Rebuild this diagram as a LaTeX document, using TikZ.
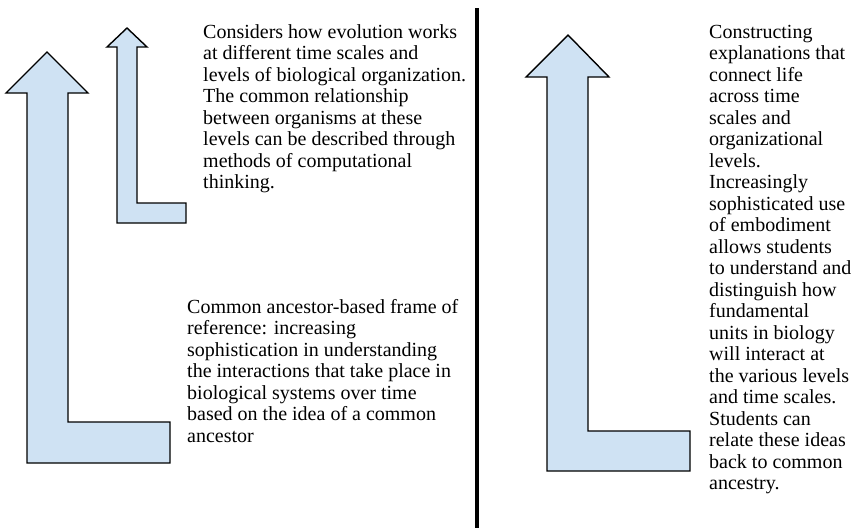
\documentclass[tikz,border=0pt]{standalone}
\usepackage{fontspec}
\setmainfont{Liberation Serif}
\begin{document}
\begin{tikzpicture}[x=1pt,y=-1pt,
  arrowshape/.style={fill=arrowblue,draw=black,line width=1.4pt,line join=miter},
  txt/.style={anchor=north west,inner sep=0pt,align=left,font=\fontsize{20}{21.5}\selectfont}]
\definecolor{arrowblue}{RGB}{207,226,243}
\useasboundingbox (0,0) rectangle (854,528);
% big left arrow
\draw[arrowshape] (47,52) -- (88,93) -- (68,93) -- (68,422) -- (170,422) -- (170,463) -- (27,463) -- (27,93) -- (6,93) -- cycle;
% small arrow
\draw[arrowshape] (127,28) -- (147,47) -- (137,47) -- (137,203) -- (186,203) -- (186,223) -- (117,223) -- (117,47) -- (107,47) -- cycle;
% right arrow
\draw[arrowshape] (568,35) -- (609,77) -- (588,77) -- (588,431) -- (690,431) -- (690,471) -- (547,471) -- (547,77) -- (526,77) -- cycle;
% divider
\coordinate (dtop) at (477,8);
\coordinate (dbot) at (477,528);
\draw[line width=3.3pt] (dtop) -- (dbot);
\node[txt] (t1) at (203,24) {Considers how evolution works\\
at different time scales and\\
levels of biological organization.\\
The common relationship\\
between organisms at these\\
levels can be described through\\
methods of computational\\
thinking.};
\node[txt] (t2) at (187,299) {Common ancestor-based frame of\\
reference: increasing\\
sophistication in understanding\\
the interactions that take place in\\
biological systems over time\\
based on the idea of a common\\
ancestor};
\node[txt] (t3) at (709,25) {Constructing\\
explanations that\\
connect life\\
across time\\
scales and\\
organizational\\
levels.\\
Increasingly\\
sophisticated use\\
of embodiment\\
allows students\\
to understand and\\
distinguish how\\
fundamental\\
units in biology\\
will interact at\\
the various levels\\
and time scales.\\
Students can\\
relate these ideas\\
back to common\\
ancestry.};
\end{tikzpicture}
\end{document}
